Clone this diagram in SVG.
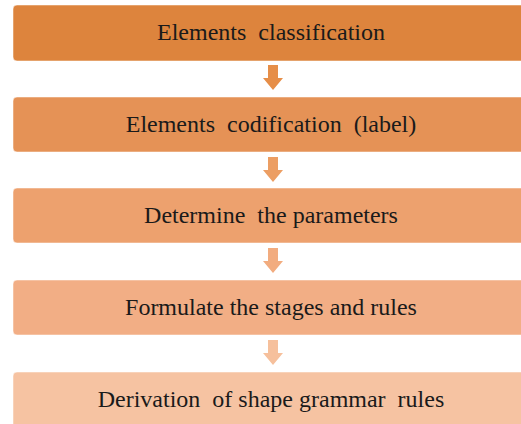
<svg xmlns="http://www.w3.org/2000/svg" width="521" height="424" viewBox="0 0 521 424">
<style>
.box{stroke:#ffffff;stroke-opacity:0.5;stroke-width:1}
.lbl{font-family:"Liberation Serif","Times New Roman",serif;font-size:24px;fill:#1a1a1a;text-anchor:middle}
</style>
<defs>
<path id="arr" d="M-5,0 H5 V13 H10 L0,25 L-10,13 H-5 Z"/>
</defs>
<rect width="521" height="424" fill="#ffffff"/>
<g id="connectors">
<use href="#arr" x="273" y="65" fill="#E68E48"/>
<use href="#arr" x="273" y="157" fill="#EC9E63"/>
<use href="#arr" x="273" y="248" fill="#F2AC7F"/>
<use href="#arr" x="273" y="340" fill="#F6C09C"/>
</g>
<g id="n1">
<rect class="box" x="13" y="5" width="520" height="56" rx="4" fill="#DD843D"/>
<text class="lbl" x="271" y="40" xml:space="preserve">Elements  classification</text>
</g>
<g id="n2">
<rect class="box" x="13" y="97" width="520" height="55" rx="4" fill="#E59256"/>
<text class="lbl" x="271" y="132" xml:space="preserve">Elements  codification  (label)</text>
</g>
<g id="n3">
<rect class="box" x="13" y="188" width="520" height="55" rx="4" fill="#EDA16E"/>
<text class="lbl" x="271" y="223" xml:space="preserve">Determine  the parameters</text>
</g>
<g id="n4">
<rect class="box" x="13" y="280" width="520" height="55" rx="4" fill="#F2AE85"/>
<text class="lbl" x="271" y="315" xml:space="preserve">Formulate the stages and rules</text>
</g>
<g id="n5">
<rect class="box" x="13" y="372" width="520" height="60" rx="4" fill="#F6C3A2"/>
<text class="lbl" x="271" y="407" xml:space="preserve">Derivation  of shape grammar  rules</text>
</g>
</svg>
